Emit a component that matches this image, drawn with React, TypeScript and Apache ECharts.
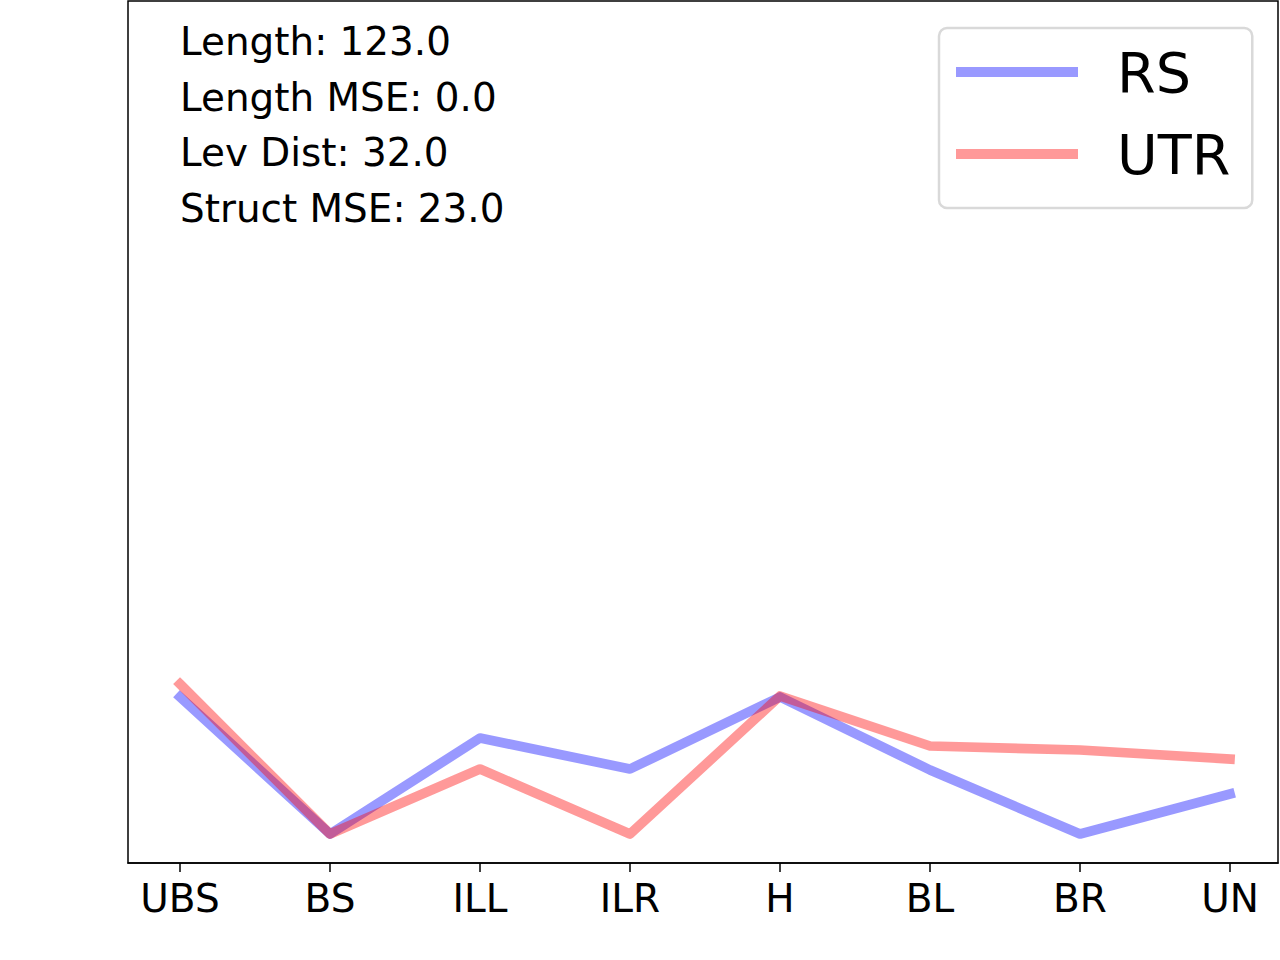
import { useEffect, useRef } from 'react';
import * as echarts from 'echarts';

// categories on x (arbitrary y units, axis hidden)
const categories = ['UBS', 'BS', 'ILL', 'ILR', 'H', 'BL', 'BR', 'UN'];
const rsValues = [16.6, 2.9, 12.5, 9.4, 16.6, 9.3, 2.9, 6.9];
const utrValues = [17.9, 2.9, 9.4, 2.9, 16.7, 11.7, 11.3, 10.4];
const statLines = ['Length: 123.0', 'Length MSE: 0.0', 'Lev Dist: 32.0', 'Struct MSE: 23.0'];

const FONT = 'DejaVu Sans';
const RS_COLOR = 'rgba(0,0,255,0.4)';
const UTR_COLOR = 'rgba(255,0,0,0.4)';

export default function App() {
  const ref = useRef<HTMLDivElement>(null);

  useEffect(() => {
    if (!ref.current) return;
    const chart = echarts.init(ref.current, undefined, { renderer: 'svg' });
    const ticks = categories.map((_, i) => i);

    const lineSeries = (name: string, values: number[], color: string) => ({
      name,
      type: 'line',
      data: values.map((v, i) => [i, v]),
      symbol: 'none',
      itemStyle: { color },
      lineStyle: { color, width: 9.7, cap: 'square', join: 'round' },
    });

    chart.setOption({
      animation: false,
      backgroundColor: '#fff',
      textStyle: { fontFamily: FONT },
      grid: {
        left: 128, right: 2, top: 1, bottom: 97,
        show: true, borderColor: '#000', borderWidth: 1.5,
      },
      xAxis: {
        type: 'value',
        min: -0.3467,
        max: 7.32,
        axisLine: { show: true, lineStyle: { color: '#000', width: 1.5 } },
        axisTick: { show: true, customValues: ticks, length: 9, lineStyle: { color: '#000', width: 1.5 } },
        axisLabel: {
          customValues: ticks,
          formatter: (v: number) => categories[Math.round(v)] ?? '',
          fontSize: 39, lineHeight: 39, color: '#000', fontFamily: FONT, margin: 16,
        },
        splitLine: { show: false },
      },
      yAxis: {
        type: 'value', min: 0, max: 86.2,
        axisLine: { show: false }, axisTick: { show: false },
        axisLabel: { show: false }, splitLine: { show: false },
      },
      legend: {
        left: 939, top: 28, orient: 'vertical',
        icon: 'rect', itemWidth: 122, itemHeight: 10, itemGap: 22,
        padding: [14, 22, 24, 17],
        borderColor: '#d9d9d9', borderWidth: 2.5, borderRadius: 8, backgroundColor: '#fff',
        textStyle: { fontSize: 55.6, lineHeight: 60, color: '#000', fontFamily: FONT, padding: [0, 0, 0, 34] },
        data: ['RS', 'UTR'],
      },
      graphic: [{
        type: 'text', left: 180, top: 14,
        style: {
          text: statLines.join('\n'), fontSize: 38.9, lineHeight: 55.5,
          fontFamily: FONT, fill: '#000',
        },
      }],
      series: [lineSeries('RS', rsValues, RS_COLOR), lineSeries('UTR', utrValues, UTR_COLOR)],
    });

    return () => chart.dispose();
  }, []);

  return <div ref={ref} style={{ position: 'fixed', left: 0, top: 0, width: 1280, height: 960 }} />;
}
